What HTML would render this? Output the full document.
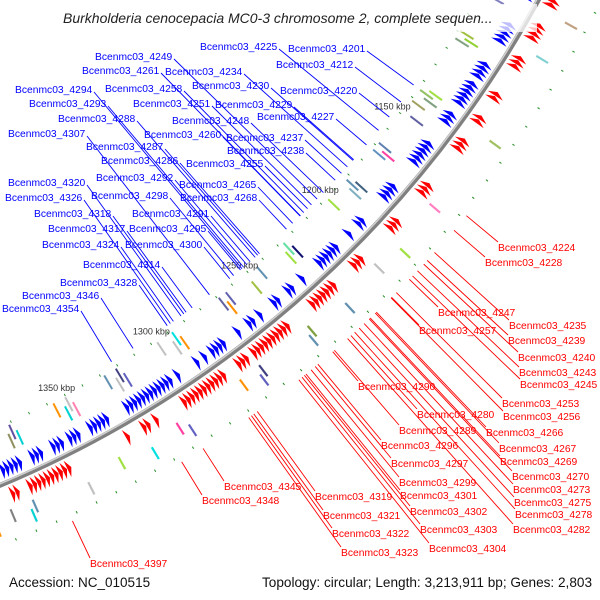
<!DOCTYPE html>
<html><head><meta charset="utf-8">
<style>
html,body{margin:0;padding:0;background:#fff;}
#wrap{width:600px;height:600px;position:relative;overflow:hidden;font-family:"Liberation Sans",sans-serif;}
svg{position:absolute;left:0;top:0;}
</style></head>
<body>
<div id="wrap">
<svg id="map" width="600" height="600" viewBox="0 0 600 600"></svg>
</div>
<script>
// ---- data ----
const blueStarts=[1030,1032,1034,1040,1046,1048,1050,1052,1060,1066,1068,1070,1076,1090,1092,1094,1096,1098,1110,1112,1114,1116,1120,1122,1124,1126,1128,1130,1136,1138,1140,1152,1154,1156,1158,1160,1162,1176,1178,1180,1182,1196,1198,1204,1212,1214,1216,1218,1220,1222,1232,1238,1240,1246,1248,1256,1260,1262,1268,1276,1278,1280,1282,1286,1290,1300,1304,1306,1308,1310,1312,1314,1316,1318,1320,1322,1324,1326,1336,1338,1340,1342,1344,1350,1352,1354,1358,1360,1362,1368,1370,1372,1378,1380,1382,1384,1386,1392,1394,1396,1400,1404,1406,1408,1410,1412,1414,1418,1420,1424];
const redStarts=[1020,1022,1024,1026,1028,1036,1038,1044,1046,1048,1056,1058,1060,1062,1072,1074,1084,1086,1088,1090,1100,1102,1104,1118,1120,1130,1132,1142,1144,1146,1166,1168,1170,1186,1188,1190,1208,1210,1212,1224,1226,1228,1230,1232,1234,1236,1250,1252,1254,1256,1258,1260,1262,1264,1266,1268,1272,1274,1276,1284,1286,1288,1290,1292,1294,1296,1298,1300,1302,1304,1318,1322,1324,1332,1360,1362,1364,1366,1368,1370,1372,1374,1376,1378,1384,1386,1394,1402,1404,1416,1418,1420];
const innerBoxStarts=[1036,1038,1040,1058,1060,1062,1080,1082,1084,1104,1106,1108,1134,1136,1138,1142,1148,1166,1168,1170,1186,1188,1190,1200,1226,1228,1230,1244,1250,1262,1264,1266,1290,1292,1294,1300,1320,1322,1324,1328,1346,1348,1350,1354,1374,1376,1378,1396,1400,1404];
const innerBoxColors=["#00c0c0","#7fa0c0","#c0a060","#b0b080","#90e020","#606060","#a0e040","#ff40a0","#8080c0","#a0c040","#90d030","#80a080","#a0e040","#90c060","#80a080","#a0a060","#6060a0","#6080b0","#ff40a0","#6090c0","#406080","#6090b0","#80b0c0","#a0e040","#101070","#60e0a0","#a0e040","#6090b0","#a0c040","#6060b0","#ff9000","#6060a0","#ff9000","#00e0e0","#c0c0c0","#c0c0c0","#6060c0","#404080","#c0c0c0","#6090b0","#ff80b0","#c0c0c0","#00d0d0","#ff9000","#00d0d0","#6050a0","#909060","#c0c0c0","#6060c0","#00e0e0"];
const outerBoxStarts=[1026,1030,1034,1040,1050,1054,1064,1078,1096,1136,1172,1194,1206,1226,1244,1246,1270,1272,1280,1308,1312,1326,1340,1356,1380,1382,1390,1398,1408,1412,1424];
const outerBoxColors=["#ff9000","#40e0a0","#6090c0","#40a040","#c0c0c0","#6090c0","#c0b0a0","#c0a080","#80d0d0","#a0c060","#ff80c0","#a0e040","#c0c0c0","#6090b0","#80a040","#6090b0","#404080","#6060c0","#ff9000","#6060c0","#ff40a0","#00e0e0","#a0e040","#c0c0c0","#6090b0","#00d0d0","#808080","#ff9000","#00d0d0","#c0c0c0","#ff9000"];
const tickKbp=[1150,1200,1250,1300,1350];
const blueLabels=[["Bcenmc03_4249",95,56],["Bcenmc03_4225",200,46],["Bcenmc03_4201",288,48],["Bcenmc03_4261",82,70],["Bcenmc03_4234",165,71],["Bcenmc03_4212",276,64],["Bcenmc03_4294",15,89],["Bcenmc03_4258",105,88],["Bcenmc03_4230",192,85],["Bcenmc03_4220",280,90],["Bcenmc03_4293",29,103],["Bcenmc03_4251",133,103],["Bcenmc03_4229",215,104],["Bcenmc03_4288",58,118],["Bcenmc03_4248",172,120],["Bcenmc03_4227",257,116],["Bcenmc03_4307",8,133],["Bcenmc03_4260",144,134],["Bcenmc03_4237",226,137],["Bcenmc03_4287",86,146],["Bcenmc03_4238",227,150],["Bcenmc03_4286",101,160],["Bcenmc03_4255",186,163],["Bcenmc03_4292",96,177],["Bcenmc03_4265",179,184],["Bcenmc03_4320",8,182],["Bcenmc03_4326",5,197],["Bcenmc03_4298",91,195],["Bcenmc03_4268",180,197],["Bcenmc03_4318",34,213],["Bcenmc03_4291",132,213],["Bcenmc03_4317",48,228],["Bcenmc03_4295",129,228],["Bcenmc03_4324",42,244],["Bcenmc03_4300",125,244],["Bcenmc03_4314",83,264],["Bcenmc03_4328",60,282],["Bcenmc03_4346",22,295],["Bcenmc03_4354",2,308]];
const redLabels=[["Bcenmc03_4224",498,247],["Bcenmc03_4228",485,262],["Bcenmc03_4247",438,312],["Bcenmc03_4235",509,325],["Bcenmc03_4257",419,330],["Bcenmc03_4239",508,340],["Bcenmc03_4240",518,357],["Bcenmc03_4243",519,372],["Bcenmc03_4245",520,384],["Bcenmc03_4290",358,386],["Bcenmc03_4253",502,403],["Bcenmc03_4256",503,416],["Bcenmc03_4280",417,414],["Bcenmc03_4289",399,430],["Bcenmc03_4266",486,432],["Bcenmc03_4296",381,445],["Bcenmc03_4267",499,448],["Bcenmc03_4269",500,461],["Bcenmc03_4297",391,463],["Bcenmc03_4270",512,476],["Bcenmc03_4299",399,482],["Bcenmc03_4273",513,489],["Bcenmc03_4301",400,495],["Bcenmc03_4275",514,502],["Bcenmc03_4345",224,486],["Bcenmc03_4319",315,496],["Bcenmc03_4348",202,500],["Bcenmc03_4302",410,511],["Bcenmc03_4278",515,514],["Bcenmc03_4321",323,515],["Bcenmc03_4303",420,529],["Bcenmc03_4282",513,529],["Bcenmc03_4322",332,533],["Bcenmc03_4304",429,548],["Bcenmc03_4323",341,552],["Bcenmc03_4397",90,563]];

// ---- geometry ----
const CX=-422, CY=-524, R=1094;
const NS="http://www.w3.org/2000/svg";
const svg=document.getElementById('map');
function ang(k){return (37.75+(k-1150)*0.1228)*Math.PI/180;}
function pt(r,a){return [CX+r*Math.cos(a),CY+r*Math.sin(a)];}
function mk(tag,attrs){const e=document.createElementNS(NS,tag);for(const k in attrs)e.setAttribute(k,attrs[k]);svg.appendChild(e);return e;}
function f(p){return p[0].toFixed(1)+","+p[1].toFixed(1);}
const GL=1.8;

// green dashes
for(let k=1015;k<1432;k+=9){
  const a=ang(k), a2=ang(k+0.4);
  const el=mk('line',{x1:pt(1040,a)[0],y1:pt(1040,a)[1],x2:pt(1040,a2)[0],y2:pt(1040,a2)[1],stroke:'#1a8a1a','stroke-width':2.5});
  
  
  const el2=mk('line',{x1:pt(1150,a)[0],y1:pt(1150,a)[1],x2:pt(1150,a2)[0],y2:pt(1150,a2)[1],stroke:'#1a8a1a','stroke-width':2.5});
  
  
}
// boxes (radial bars)
function box(k,r0,r1,color,name){
  const a1=ang(k),a2=ang(k+1.0);
  const el=mk('polygon',{points:[pt(r0,a1),pt(r1,a1),pt(r1,a2),pt(r0,a2)].map(f).join(' '),fill:color,stroke:'#fff','stroke-width':0.3});
  
  
}
innerBoxStarts.forEach((k,i)=>{const o=(i%2)*8;box(k,1050-o,1066-o,innerBoxColors[i%innerBoxColors.length],'inner-feature-box');});
outerBoxStarts.forEach((k,i)=>{const o=(i%2)*8;box(k,1120+o,1134+o,outerBoxColors[i%outerBoxColors.length],'outer-feature-box');});

// genes
function gene(k,r0,r1,color,name){
  const a1=ang(k),a2=ang(k+GL),am=(r0+r1)/2;
  const el=mk('polygon',{points:[pt(r0,a2),pt(r1,a2),pt(am,a1)].map(f).join(' '),fill:color});
  
  
}
blueStarts.forEach(k=>gene(k,1072,1090,'#0000ff','forward-gene'));
redStarts.forEach(k=>gene(k,1098,1116,'#ff0000','reverse-gene'));

// backbone
const bb=mk('path',{d:'M'+f(pt(R,ang(1000)))+' A'+R+' '+R+' 0 0 1 '+f(pt(R,ang(1440))),fill:'none',stroke:'#808080','stroke-width':5});


const bb2=mk('path',{d:'M'+f(pt(R-1.5,ang(1000)))+' A'+(R-1.5)+' '+(R-1.5)+' 0 0 1 '+f(pt(R-1.5,ang(1440))),fill:'none',stroke:'#d0d0d0','stroke-width':1.5});



// ticks
tickKbp.forEach(k=>{
  const p=pt(1030,ang(k));
  const t=mk('text',{x:p[0],y:p[1]+3,'font-size':9,'text-anchor':'middle',fill:'#333','font-family':'Liberation Sans, sans-serif'});
  t.textContent=k+' kbp';
  
  
});

// labels
function radialTo(x,y,r){const dx=x-CX,dy=y-CY;const d=Math.hypot(dx,dy);return [CX+dx/d*r,CY+dy/d*r];}
blueLabels.forEach(l=>{
  const ax=l[1]+79,ay=l[2]+3;
  const e=radialTo(ax,ay,1034);
  const ln=mk('line',{x1:ax,y1:ay,x2:e[0],y2:e[1],stroke:'#0000ff','stroke-width':0.9});
  
  
  const t=mk('text',{x:l[1],y:l[2]+4,'font-size':10.3,fill:'#0000ff','font-family':'Liberation Sans, sans-serif'});
  t.textContent=l[0];
  
  
});
redLabels.forEach(l=>{
  const ax=l[1],ay=l[2]-5;
  const e=radialTo(ax,ay,1156);
  const ln=mk('line',{x1:ax,y1:ay,x2:e[0],y2:e[1],stroke:'#ff0000','stroke-width':0.9});
  
  
  const t=mk('text',{x:l[1],y:l[2]+4,'font-size':10.3,fill:'#ff0000','font-family':'Liberation Sans, sans-serif'});
  t.textContent=l[0];
  
  
});

// title
const tb=mk('rect',{x:58,y:4,width:479,height:28,fill:'#fff','fill-opacity':0.75});


const tt=mk('text',{x:63,y:23,'font-size':14,'font-style':'italic',fill:'#222','font-family':'Liberation Sans, sans-serif'});
tt.textContent='Burkholderia cenocepacia MC0-3 chromosome 2, complete sequen...';


const a1=mk('text',{x:9,y:587,'font-size':13.5,fill:'#111','font-family':'Liberation Sans, sans-serif'});
a1.textContent='Accession: NC_010515';


const a2=mk('text',{x:592,y:587,'font-size':13.6,fill:'#111','text-anchor':'end','font-family':'Liberation Sans, sans-serif'});
a2.textContent='Topology: circular; Length: 3,213,911 bp; Genes: 2,803';


</script>
</body></html>
